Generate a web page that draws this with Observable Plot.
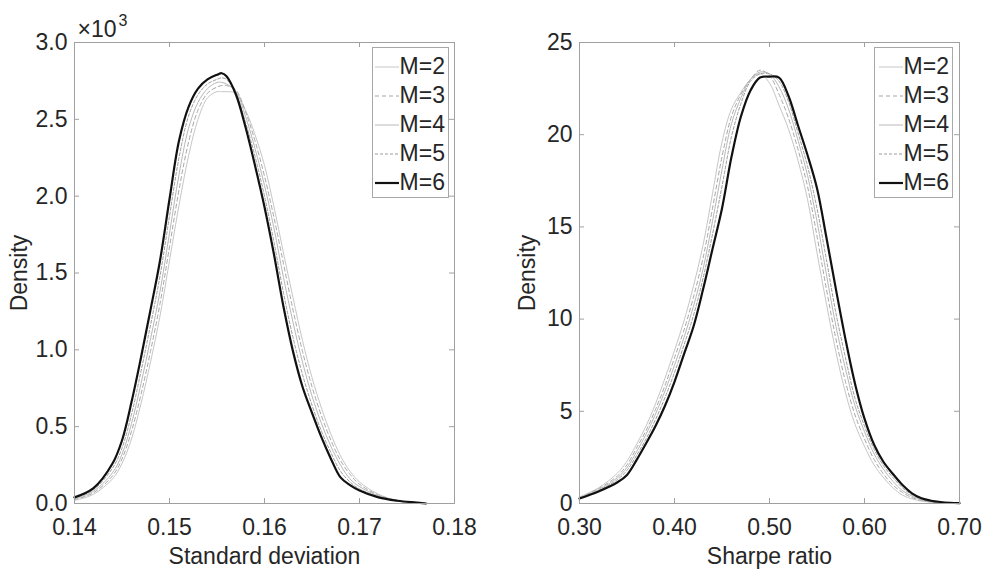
<!DOCTYPE html>
<html>
<head>
<meta charset="utf-8">
<script src="https://cdn.jsdelivr.net/npm/d3@7"></script>
<script src="https://cdn.jsdelivr.net/npm/@observablehq/plot@0.6"></script>
<style>
  body { margin: 0; background: #fff; font-family: "Liberation Sans", Arial, sans-serif; }
  #wrap { position: relative; width: 985px; height: 572px; overflow: hidden; }
  .panel { position: absolute; top: 0; }
  .legend { position: absolute; top: 47px; height: 151px; border: 1px solid #a8a8a8; background: #fff;
            box-sizing: border-box; padding-top: 4px; }
  .legend .row { height: 29px; display: flex; align-items: center; justify-content: flex-end; padding-right: 3px;
                 font-size: 23px; color: #262626; line-height: 29px; }
  .legend svg { margin-right: 1px; }
</style>
</head>
<body>
<div id="wrap"></div>
<script>
// ---- series names ----
const series = ["M=2", "M=3", "M=4", "M=5", "M=6"];

// ---- left panel: Standard deviation (density in units of 10^3) ----
const sdX = [0.140, 0.142, 0.144, 0.145, 0.146, 0.147, 0.148, 0.149, 0.150, 0.151, 0.152, 0.153, 0.154, 0.155, 0.1555, 0.156, 0.157,
             0.158, 0.159, 0.160, 0.161, 0.162, 0.163, 0.164, 0.165, 0.166, 0.167, 0.168, 0.169, 0.170, 0.172, 0.174, 0.176, 0.177];
const sdM2 = [0.02, 0.06, 0.16, 0.26, 0.42, 0.65, 0.92, 1.22, 1.58, 1.94, 2.26, 2.50, 2.64, 2.68, 2.68, 2.68, 2.67,
              2.56, 2.40, 2.20, 1.93, 1.63, 1.34, 1.06, 0.82, 0.62, 0.45, 0.31, 0.21, 0.14, 0.06, 0.02, 0.006, 0];
const sdM3 = [0.025, 0.07, 0.18, 0.29, 0.47, 0.71, 0.99, 1.30, 1.67, 2.04, 2.35, 2.56, 2.67, 2.71, 2.72, 2.72, 2.69,
              2.55, 2.36, 2.13, 1.86, 1.56, 1.26, 0.99, 0.76, 0.57, 0.41, 0.28, 0.19, 0.125, 0.055, 0.02, 0.006, 0];
const sdM4 = [0.03, 0.08, 0.20, 0.32, 0.52, 0.78, 1.07, 1.38, 1.76, 2.14, 2.44, 2.61, 2.70, 2.74, 2.74, 2.73, 2.68,
              2.52, 2.31, 2.07, 1.79, 1.47, 1.18, 0.92, 0.70, 0.52, 0.37, 0.25, 0.16, 0.11, 0.05, 0.018, 0.006, 0];
const sdM5 = [0.035, 0.09, 0.23, 0.36, 0.58, 0.86, 1.16, 1.48, 1.87, 2.25, 2.52, 2.66, 2.73, 2.76, 2.77, 2.76, 2.67,
              2.48, 2.26, 2.00, 1.70, 1.37, 1.08, 0.84, 0.64, 0.47, 0.33, 0.21, 0.14, 0.095, 0.045, 0.017, 0.005, 0];
const sdM6 = [0.04, 0.10, 0.26, 0.41, 0.66, 0.95, 1.26, 1.58, 1.98, 2.36, 2.58, 2.70, 2.76, 2.79, 2.80, 2.78, 2.66,
              2.45, 2.20, 1.93, 1.62, 1.28, 0.99, 0.76, 0.59, 0.43, 0.29, 0.17, 0.12, 0.085, 0.04, 0.018, 0.006, 0];
const sdTicks = [0.14, 0.15, 0.16, 0.17, 0.18];
const sdDensityTicks = [0, 0.5, 1.0, 1.5, 2.0, 2.5, 3.0];

// ---- right panel: Sharpe ratio ----
const srX = [0.30, 0.32, 0.34, 0.35, 0.36, 0.37, 0.38, 0.39, 0.40, 0.41, 0.42, 0.43, 0.44, 0.45, 0.46, 0.47, 0.48, 0.49, 0.50,
             0.51, 0.52, 0.53, 0.54, 0.55, 0.56, 0.57, 0.58, 0.59, 0.60, 0.61, 0.62, 0.63, 0.64, 0.65, 0.66, 0.67, 0.68, 0.69, 0.70];
const srM2 = [0.35, 0.85, 1.65, 2.3, 3.2, 4.2, 5.4, 6.8, 8.3, 9.9, 11.8, 14.0, 16.8, 19.6, 21.4, 22.3, 23.0, 23.3, 22.8,
              21.6, 20.3, 18.6, 16.5, 13.6, 10.8, 8.2, 6.0, 4.3, 3.1, 2.1, 1.4, 0.85, 0.45, 0.25, 0.13, 0.07, 0.04, 0.02, 0.01];
const srM3 = [0.33, 0.8, 1.5, 2.1, 3.0, 3.95, 5.1, 6.4, 7.9, 9.4, 11.2, 13.3, 16.0, 18.8, 21.0, 22.2, 23.0, 23.5, 23.2,
              22.2, 20.9, 19.2, 17.2, 14.5, 11.6, 8.9, 6.6, 4.8, 3.5, 2.4, 1.6, 1.0, 0.6, 0.32, 0.17, 0.09, 0.05, 0.025, 0.01];
const srM4 = [0.31, 0.75, 1.4, 1.95, 2.8, 3.75, 4.85, 6.1, 7.5, 9.0, 10.7, 12.7, 15.3, 18.1, 20.6, 22.0, 23.0, 23.4, 23.3,
              22.6, 21.4, 19.7, 17.8, 15.3, 12.4, 9.6, 7.3, 5.3, 3.9, 2.7, 1.85, 1.2, 0.7, 0.4, 0.2, 0.1, 0.06, 0.03, 0.015];
const srM5 = [0.29, 0.7, 1.3, 1.8, 2.6, 3.5, 4.55, 5.75, 7.1, 8.6, 10.2, 12.2, 14.6, 17.2, 19.9, 21.7, 22.9, 23.3, 23.3,
              22.9, 21.8, 20.1, 18.3, 16.0, 13.2, 10.3, 7.9, 5.7, 4.2, 2.95, 2.05, 1.4, 0.85, 0.47, 0.24, 0.12, 0.07, 0.035, 0.018];
const srM6 = [0.27, 0.65, 1.15, 1.55, 2.35, 3.25, 4.2, 5.3, 6.6, 8.1, 9.6, 11.6, 13.8, 16.0, 18.8, 21.0, 22.4, 23.1, 23.15,
              23.1, 22.1, 20.5, 18.9, 17.1, 14.4, 11.6, 8.9, 6.5, 4.6, 3.2, 2.25, 1.6, 1.0, 0.55, 0.28, 0.15, 0.08, 0.04, 0.02];
const srTicks = [0.30, 0.40, 0.50, 0.60, 0.70];
const srDensityTicks = [0, 5, 10, 15, 20, 25];

// ---- line styles (per series) ----
const lineStyles = [
  {stroke: "#c6c6c6", width: 1, dash: null},
  {stroke: "#a6a6a6", width: 1, dash: "4,3"},
  {stroke: "#b8b8b8", width: 1, dash: null},
  {stroke: "#9a9a9a", width: 1, dash: "3,2"},
  {stroke: "#111111", width: 2.2, dash: null}
];

const H = 572, MT = 42, MB = 69;
const AXIS_GRAY = "#a0a0a0";

function panel(cfg) {
  const fw = cfg.width - cfg.ml - cfg.mr;
  const fh = H - MT - MB;
  const marks = [];
  cfg.ys.forEach((vals, i) => {
    const st = lineStyles[i];
    const rows = cfg.xs.map((x, j) => ({x, y: vals[j]}));
    marks.push(Plot.line(rows, {x: "x", y: "y", stroke: st.stroke, strokeWidth: st.width,
      strokeDasharray: st.dash, curve: "catmull-rom"}));
  });
  marks.push(Plot.frame({stroke: AXIS_GRAY}));
  marks.push(Plot.tickX(cfg.xTicks, {x: d => d, stroke: AXIS_GRAY, insetTop: fh - 5}));
  marks.push(Plot.tickX(cfg.xTicks, {x: d => d, stroke: AXIS_GRAY, insetBottom: fh - 5}));
  marks.push(Plot.tickY(cfg.yTicks, {y: d => d, stroke: AXIS_GRAY, insetRight: fw - 5}));
  marks.push(Plot.tickY(cfg.yTicks, {y: d => d, stroke: AXIS_GRAY, insetLeft: fw - 5}));
  marks.push(Plot.axisX(cfg.xTicks, {anchor: "bottom", tickSize: 0, tickPadding: 15, tickFormat: cfg.xFmt,
    label: cfg.xLabel, labelAnchor: "center", labelArrow: "none", labelOffset: 60}));
  marks.push(Plot.axisY(cfg.yTicks, {anchor: "left", tickSize: 0, tickPadding: 7, tickFormat: cfg.yFmt,
    label: "Density", labelAnchor: "center", labelArrow: "none", labelOffset: cfg.ylo}));
  if (cfg.extra) marks.push(...cfg.extra);
  return Plot.plot({
    width: cfg.width, height: H,
    marginLeft: cfg.ml, marginRight: cfg.mr, marginTop: MT, marginBottom: MB,
    x: {domain: cfg.xDomain},
    y: {domain: cfg.yDomain},
    style: {fontFamily: "'Liberation Sans', Arial, sans-serif", fontSize: "23px", color: "#262626",
            background: "white", overflow: "visible"},
    marks
  });
}

function legend(left, width) {
  const div = document.createElement("div");
  div.className = "legend";
  div.style.left = left + "px";
  div.style.width = width + "px";
  series.forEach((s, i) => {
    const st = lineStyles[i];
    const row = document.createElement("div");
    row.className = "row";
    const ns = "http://www.w3.org/2000/svg";
    const svg = document.createElementNS(ns, "svg");
    svg.setAttribute("width", 24); svg.setAttribute("height", 10);
    const ln = document.createElementNS(ns, "line");
    ln.setAttribute("x1", 0); ln.setAttribute("x2", 24); ln.setAttribute("y1", 5); ln.setAttribute("y2", 5);
    ln.setAttribute("stroke", st.stroke); ln.setAttribute("stroke-width", st.width);
    if (st.dash) ln.setAttribute("stroke-dasharray", st.dash);
    svg.appendChild(ln);
    const span = document.createElement("span");
    span.textContent = s;
    row.appendChild(svg); row.appendChild(span);
    div.appendChild(row);
  });
  return div;
}

const wrap = document.getElementById("wrap");

const left = panel({
  width: 490, ml: 74, mr: 36,
  xs: sdX, ys: [sdM2, sdM3, sdM4, sdM5, sdM6],
  xDomain: [0.14, 0.18], yDomain: [0, 3],
  xTicks: sdTicks, yTicks: sdDensityTicks,
  xFmt: d3.format(".2f"), yFmt: d3.format(".1f"),
  xLabel: "Standard deviation", ylo: 64,
  extra: [
    Plot.text(["×10"], {frameAnchor: "top-left", text: d => d, dx: 3, dy: -6, lineAnchor: "bottom",
      textAnchor: "start", fontSize: 23, fill: "#262626"}),
    Plot.text(["3"], {frameAnchor: "top-left", text: d => d, dx: 44, dy: -17, lineAnchor: "bottom",
      textAnchor: "start", fontSize: 16, fill: "#262626"})
  ]
});
left.classList.add("panel");
left.style.left = "0px";
wrap.appendChild(left);

const right = panel({
  width: 495, ml: 89, mr: 26,
  xs: srX, ys: [srM2, srM3, srM4, srM5, srM6],
  xDomain: [0.30, 0.70], yDomain: [0, 25],
  xTicks: srTicks, yTicks: srDensityTicks,
  xFmt: d3.format(".2f"), yFmt: d => String(d),
  xLabel: "Sharpe ratio", ylo: 61
});
right.classList.add("panel");
right.style.left = "490px";
wrap.appendChild(right);

wrap.appendChild(legend(372, 77));
wrap.appendChild(legend(874, 79));
</script>
</body>
</html>
